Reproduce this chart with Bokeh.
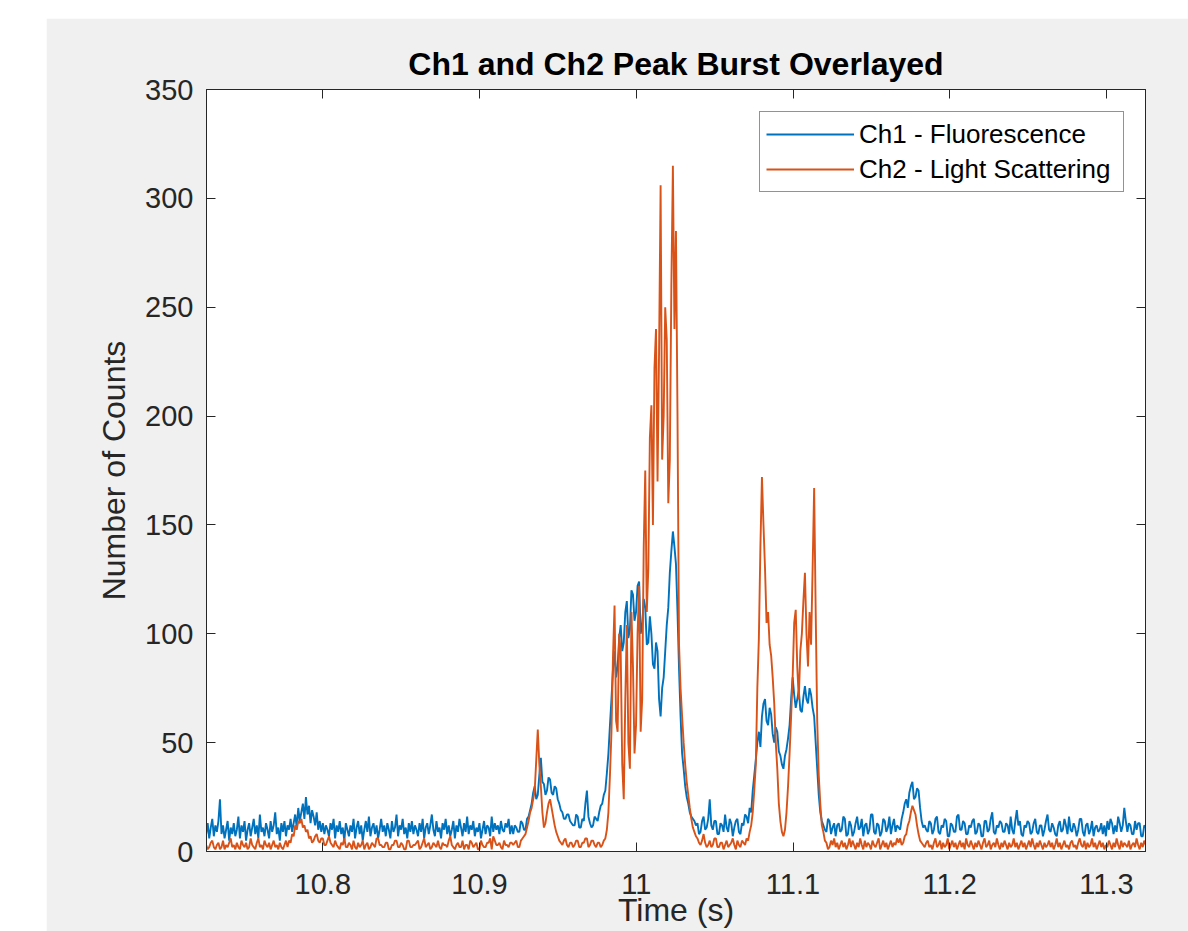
import numpy as np
from bokeh.plotting import figure
from bokeh.models import Range1d, LinearAxis, FixedTicker, Legend, LegendItem
from bokeh.embed import file_html
from bokeh.resources import INLINE

# ---------------- data ----------------
t_start = 10.72557     # time of first reading (s)
t_step = 0.0009796     # spacing of the readings (s)

ch1 = [
    # 10.726 - 10.778
    8, 13, 6, 11, 15, 7, 12, 9, 14, 24,
    8, 12, 6, 10, 14, 5, 11, 8, 13, 7,
    10, 16, 6, 12, 9, 14, 5, 10, 13, 7,
    11, 15, 8, 12, 6, 17, 9, 11, 7, 13,
    10, 6, 14, 9, 12, 18, 8, 11, 5, 13,
    9, 14, 7, 12,
    # small bump near 10.78
    10, 15, 9, 13, 17, 11, 20, 14, 18, 22,
    15, 25, 17, 21, 13, 19, 16, 12, 18, 10,
    14, 9, 13, 8, 12, 10,
    # baseline
    7, 13, 10, 15, 6, 12, 9, 14, 8, 11,
    5, 13, 10, 7, 12, 9, 15, 6, 11, 14,
    8, 12, 5, 10, 14, 9, 16, 7, 11, 13,
    8, 12, 6, 10, 15, 9, 12, 7, 13, 10,
    6, 14, 9, 11, 17, 7, 12, 10, 15, 8,
    11, 6, 13, 9, 14, 8, 12, 10, 7, 13,
    9, 15, 6, 11, 13, 8, 12, 17, 10, 7,
    14, 9, 11, 6, 13, 10, 15, 8, 12, 7,
    10, 14, 6, 12, 9, 15, 11, 7, 13, 9,
    16, 8, 12, 10, 14, 7, 11, 9, 13, 6,
    10, 14, 8, 12, 11, 7, 16, 9, 13, 10,
    12, 8, 14, 10, 9, 13, 11, 15, 8, 12,
    # bump near 10.94
    8, 12, 11, 9, 9, 14, 13, 10, 10, 15,
    16, 19, 22, 27, 30, 24, 26, 35, 43, 32,
    31, 26, 28, 34, 33, 27, 26, 30, 29, 24,
    22, 19, 18, 15, 15, 17, 17, 14, 13, 12,
    12, 17, 16, 11, 11, 15, 14, 22, 28, 16,
    13, 11, 12, 16, 15, 14, 18, 21, 22, 26,
    # main burst near 11.0
    28, 36, 45, 58, 70, 84, 92, 80, 85, 98,
    104, 92, 96, 110, 115, 98, 102, 120, 118, 106,
    110, 122, 124, 100, 104, 116, 112, 95, 96, 108,
    100, 86, 84, 96, 92, 70, 62, 75, 80, 92,
    104, 112, 128, 138, 147, 140, 132, 110, 84, 62,
    45, 38, 30, 25, 22, 18, 16, 15, 14, 12,
    # baseline
    13, 8, 9, 14, 16, 10, 11, 15, 24, 12,
    10, 14, 14, 8, 8, 13, 12, 9, 17, 11,
    9, 15, 13, 7, 11, 14, 15, 9, 8, 13,
    12, 17, 16, 13, 20, 18,
    # second burst near 11.1
    28, 35, 42, 50, 55, 48, 62, 68, 70, 60,
    58, 66, 63, 54, 50, 57, 55, 46, 44, 40,
    38, 44, 47, 52, 58, 70, 80, 72, 66, 70,
    74, 65, 64, 71, 76, 70, 68, 75, 72, 66,
    62, 50, 38, 26, 18, 14, 12, 10,
    # baseline
    9, 15, 14, 8, 11, 13, 7, 12, 13, 9,
    10, 16, 15, 7, 8, 14, 12, 7, 9, 13,
    16, 10, 11, 15, 7, 12, 13, 8, 10, 17,
    17, 9, 8, 13, 12, 7, 9, 15, 14, 9,
    11, 16, 8, 12, 15, 9, 12, 11,
    # bump near 11.18
    10, 15, 18, 22, 24, 20, 27, 30, 32, 24,
    25, 29, 28, 20, 14, 11, 12, 10,
    # baseline to the end
    9, 14, 13, 8, 10, 15, 16, 9, 8, 12,
    11, 15, 14, 7, 7, 13, 12, 9, 9, 16,
    17, 10, 10, 14, 13, 8, 8, 12, 11, 14,
    15, 8, 9, 13, 12, 7, 7, 14, 14, 9,
    10, 15, 18, 9, 8, 12, 11, 14, 13, 9,
    9, 13, 12, 8, 16, 10, 8, 14, 19, 12,
    14, 8, 7, 12, 11, 14, 13, 8, 9, 13,
    15, 9, 8, 12, 12, 7, 10, 14, 17, 10,
    9, 13, 11, 8, 7, 12, 14, 9, 10, 15,
    12, 8, 16, 10, 9, 13, 11, 7, 10, 15,
    15, 9, 7, 12, 13, 8, 10, 14, 7, 11,
    12, 9, 10, 13, 8, 12, 7, 14, 10, 15,
    13, 8, 12, 9, 16, 13, 9, 12, 20, 14,
    9, 13, 12, 8, 8, 14, 10, 13, 13, 7,
    7, 12, 11, 14, 10,
]

ch2 = [
    # 10.726 - 10.778
    3, 1, 2, 4, 5, 2, 1, 3, 4, 1,
    2, 5, 1, 3, 2, 4, 6, 2, 3, 1,
    4, 2, 1, 5, 3, 2, 4, 1, 2, 6,
    3, 2, 1, 4, 6, 2, 3, 1, 5, 3,
    2, 4, 1, 3, 5, 2, 3, 1, 4, 2,
    1, 3, 5, 2,
    # small bump near 10.78
    5, 4, 8, 7, 12, 10, 14, 13, 15, 11,
    12, 9, 10, 6, 7, 4, 5, 7, 8, 5,
    4, 6, 6, 3, 3, 5,
    # baseline
    7, 4, 3, 2, 5, 3, 2, 1, 4, 3,
    6, 2, 2, 4, 3, 1, 5, 2, 1, 4,
    2, 3, 5, 1, 3, 4, 1, 2, 4, 3,
    2, 6, 6, 3, 3, 2, 2, 4, 4, 1,
    1, 3, 3, 5, 5, 2, 2, 4, 3, 1,
    1, 5, 5, 2, 2, 3, 3, 4, 5, 1,
    2, 4, 6, 2, 3, 4, 1, 2, 4, 3,
    2, 5, 2, 1, 4, 3, 3, 2, 5, 7,
    3, 2, 1, 3, 4, 2, 2, 5, 1, 3,
    3, 1, 5, 4, 2, 3, 4, 1, 1, 5,
    3, 2, 2, 4, 4, 6, 1, 7, 5, 3,
    3, 4, 2, 1, 5, 3, 3, 2, 4, 4,
    # bump near 10.94
    3, 4, 5, 2, 2, 5, 6, 7, 8, 11,
    14, 18, 20, 24, 28, 42, 56, 40, 30, 18,
    11, 13, 18, 22, 24, 20, 16, 12, 9, 7,
    5, 4, 3, 5, 6, 3, 2, 4, 4, 2,
    3, 5, 5, 2, 2, 4, 4, 6, 6, 2,
    3, 5, 5, 3, 2, 4, 4, 2, 3, 5,
    # main burst near 11.0
    6, 10, 18, 35, 55, 90, 113, 60, 55, 100,
    92, 40, 24, 70, 104, 50, 38, 110, 85, 45,
    58, 100, 122, 55, 70, 140, 175, 110, 130, 190,
    205, 150, 222, 240, 170, 230, 306, 180, 200, 250,
    235, 160, 180, 260, 315, 240, 285, 200, 95, 75,
    62, 50, 40, 32, 26, 20, 15, 11, 9, 7,
    # baseline
    6, 4, 3, 5, 8, 4, 2, 3, 5, 2,
    3, 6, 6, 2, 2, 4, 4, 1, 3, 5,
    2, 3, 4, 6, 3, 1, 5, 3, 2, 5,
    4, 3, 6, 5, 9, 12,
    # second burst near 11.1
    18, 28, 40, 75, 98, 140, 172, 150, 130, 105,
    110, 95, 90, 80, 68, 50, 38, 22, 14, 9,
    7, 10, 18, 30, 45, 62, 80, 105, 111, 85,
    70, 92, 100, 115, 128, 100, 85, 110, 95, 130,
    167, 110, 60, 35, 22, 12, 9, 5,
    # baseline
    4, 1, 2, 5, 3, 6, 2, 4, 1, 3,
    5, 2, 4, 1, 3, 6, 2, 5, 3, 1,
    4, 2, 6, 3, 1, 5, 2, 4, 3, 1,
    5, 3, 2, 4, 6, 1, 3, 5, 2, 4,
    1, 3, 5, 2, 4, 3, 6, 4,
    # bump near 11.18
    6, 3, 4, 7, 8, 12, 14, 18, 21, 19,
    17, 12, 8, 5, 4, 3, 2, 4,
    # baseline to the end
    5, 2, 3, 1, 4, 6, 2, 3, 5, 1,
    4, 2, 3, 6, 1, 3, 5, 2, 4, 1,
    3, 5, 2, 4, 1, 6, 3, 2, 5, 3,
    1, 4, 2, 5, 3, 1, 4, 6, 2, 3,
    5, 1, 3, 4, 2, 6, 3, 1, 4, 2,
    5, 3, 1, 4, 2, 3, 6, 2, 4, 1,
    3, 5, 2, 4, 1, 3, 5, 2, 6, 3,
    1, 4, 2, 5, 3, 1, 4, 2, 3, 5,
    2, 4, 1, 3, 6, 2, 4, 1, 3, 5,
    2, 3, 1, 4, 5, 2, 3, 1, 4, 6,
    3, 2, 5, 1, 4, 2, 3, 6, 2, 4,
    1, 3, 5, 2, 4, 1, 3, 2, 5, 3,
    1, 4, 2, 6, 3, 1, 5, 2, 4, 3,
    2, 5, 1, 3, 4, 2, 6, 3, 1, 4,
    2, 5, 3, 1, 4,
]

series_names = ["Ch1 - Fluorescence", "Ch2 - Light Scattering"]
x_ticks = [10.8, 10.9, 11.0, 11.1, 11.2, 11.3]
x_tick_labels = ["10.8", "10.9", "11", "11.1", "11.2", "11.3"]
y_ticks = [0, 50, 100, 150, 200, 250, 300, 350]
y_tick_labels = ["0", "50", "100", "150", "200", "250", "300", "350"]
x_limits = (10.7258, 11.3249)
y_limits = (0, 350)

title_text = "Ch1 and Ch2 Peak Burst Overlayed"
x_label = "Time (s)"
y_label = "Number of Counts"

n = min(len(ch1), len(ch2))
time = t_start + t_step * np.arange(n)

# ---------------- styling ----------------
FONT = "Liberation Sans"
AX = "#262626"
BLUE = "#0072BD"
ORANGE = "#D95319"

p = figure(
    width=1142, height=913,
    x_range=Range1d(*x_limits), y_range=Range1d(*y_limits),
    output_backend="svg", toolbar_location=None,
    min_border_left=160, min_border_right=43,
    min_border_top=71, min_border_bottom=80,
    background_fill_color="white", border_fill_color="#f0f0f0",
    outline_line_color=AX, outline_line_width=1,
)
p.margin = (18, 0, 0, 46)

p.title.text = title_text
p.title.align = "center"
p.title.text_font = FONT
p.title.text_font_size = "32px"
p.title.text_font_style = "bold"
p.title.text_color = "#000000"
p.title.standoff = 16

p.xgrid.visible = False
p.ygrid.visible = False

def style_axis(ax, ticks, labels=None):
    ax.ticker = FixedTicker(ticks=ticks)
    ax.axis_line_color = AX
    ax.axis_line_width = 1
    ax.major_tick_line_color = AX
    ax.major_tick_in = 9
    ax.major_tick_out = 0
    ax.minor_tick_line_color = None
    if labels is not None:
        ax.major_label_overrides = dict(zip(ticks, labels))
        ax.major_label_text_font = FONT
        ax.major_label_text_font_size = "29px"
        ax.major_label_text_color = AX
    else:
        ax.major_label_text_color = None
        ax.major_label_text_font_size = "1px"
        ax.major_label_standoff = 0

xa = p.xaxis[0]
style_axis(xa, x_ticks, x_tick_labels)
xa.major_label_standoff = 22
xa.axis_label = x_label
xa.axis_label_text_font = FONT
xa.axis_label_text_font_size = "32px"
xa.axis_label_text_font_style = "normal"
xa.axis_label_text_color = AX
xa.axis_label_standoff = -5

ya = p.yaxis[0]
style_axis(ya, y_ticks, y_tick_labels)
ya.major_label_standoff = 13
ya.axis_label = y_label
ya.axis_label_text_font = FONT
ya.axis_label_text_font_size = "32px"
ya.axis_label_text_font_style = "normal"
ya.axis_label_text_color = AX
ya.axis_label_standoff = 10

top_ax = LinearAxis()
style_axis(top_ax, x_ticks)
p.add_layout(top_ax, "above")

right_ax = LinearAxis()
style_axis(right_ax, y_ticks)
p.add_layout(right_ax, "right")

r1 = p.line(time, ch1[:n], line_color=BLUE, line_width=1.9)
r2 = p.line(time, ch2[:n], line_color=ORANGE, line_width=1.9)

legend = Legend(
    items=[LegendItem(label=series_names[0], renderers=[r1]),
           LegendItem(label=series_names[1], renderers=[r2])],
    location=(553, 659),
    border_line_color=AX, border_line_width=1,
    background_fill_color="white", background_fill_alpha=1.0,
    label_text_font=FONT, label_text_font_size="26px", label_text_color="#000000",
    glyph_width=88, glyph_height=32, padding=6, spacing=3,
    label_standoff=5, label_width=258, margin=0,
)
p.add_layout(legend)

open("out.html", "w").write(file_html(p, INLINE))
